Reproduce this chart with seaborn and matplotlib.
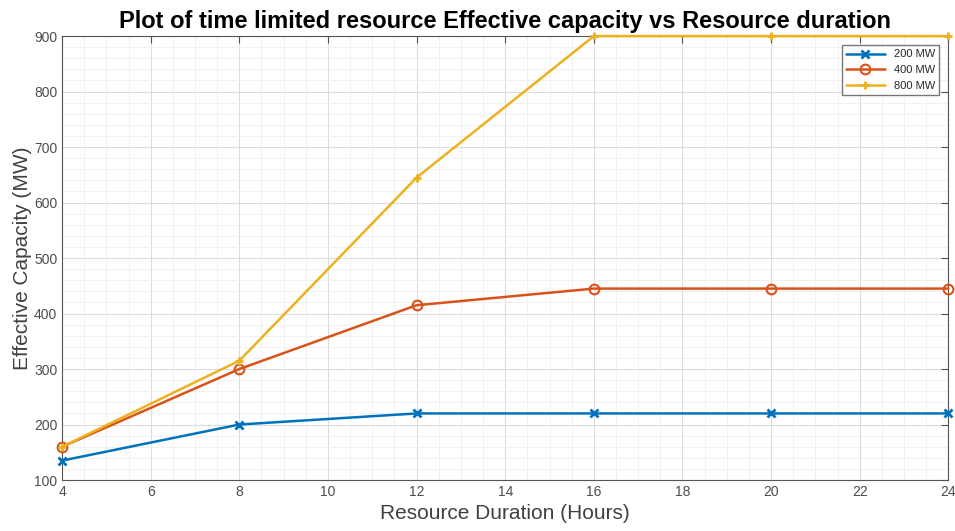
import pandas as pd
import matplotlib.pyplot as plt
import seaborn as sns
from matplotlib.ticker import MultipleLocator

# Data
duration = [4, 8, 12, 16, 20, 24]
cap_200 = [135, 200, 220, 220, 220, 220]
cap_400 = [160, 300, 415, 445, 445, 445]
cap_800 = [160, 315, 645, 900, 900, 900]
series = ["200 MW", "400 MW", "800 MW"]

df = pd.DataFrame({
    "duration": duration * 3,
    "capacity": cap_200 + cap_400 + cap_800,
    "series": [s for s in series for _ in duration],
})

sns.set_style("white")
plt.rcParams["font.family"] = ["Liberation Sans", "DejaVu Sans"]

colors = ["#0072BD", "#D95319", "#EDB120"]

fig = plt.figure(figsize=(9.55, 5.31), dpi=100)
ax = fig.add_axes([0.065, 0.096, 0.928, 0.836])

for s, c in zip(series, colors):
    sub = df[df["series"] == s]
    if s == "400 MW":
        sns.lineplot(data=sub, x="duration", y="capacity", ax=ax, color=c, lw=1.8,
                     marker="o", markersize=7, markerfacecolor="none",
                     markeredgecolor=c, markeredgewidth=1.5, label=s,
                     clip_on=False, zorder=3)
    else:
        sns.lineplot(data=sub, x="duration", y="capacity", ax=ax, color=c, lw=1.8,
                     marker="+" if s == "800 MW" else "x", markersize=6,
                     markeredgewidth=2, markeredgecolor=c, label=s,
                     clip_on=False, zorder=3)

ax.set_xlim(4, 24)
ax.set_ylim(100, 900)
ax.xaxis.set_major_locator(MultipleLocator(2))
ax.xaxis.set_minor_locator(MultipleLocator(0.5))
ax.yaxis.set_major_locator(MultipleLocator(100))
ax.yaxis.set_minor_locator(MultipleLocator(20))
ax.grid(which="major", color="#dcdcdc", lw=0.8)
ax.grid(which="minor", color="#efefef", lw=0.6)
ax.set_axisbelow(True)
for sp in ax.spines.values():
    sp.set_color("#555555")
    sp.set_linewidth(0.8)
ax.tick_params(which="major", direction="in", length=5, labelsize=10,
               colors="#4d4d4d", top=True, right=True)
ax.tick_params(which="minor", length=0)

ax.set_title("Plot of time limited resource Effective capacity vs Resource duration",
             fontsize=17, fontweight="bold", color="black", pad=6)
ax.set_xlabel("Resource Duration (Hours)", fontsize=15, color="#404040")
ax.set_ylabel("Effective Capacity (MW)", fontsize=15, color="#404040", labelpad=1)

leg = ax.legend(loc="upper right", fontsize=8, frameon=True, fancybox=False,
                edgecolor="#555555", handlelength=3.5, borderaxespad=0.8)
leg.set_zorder(5)

fig.savefig("out.png", dpi=100)
